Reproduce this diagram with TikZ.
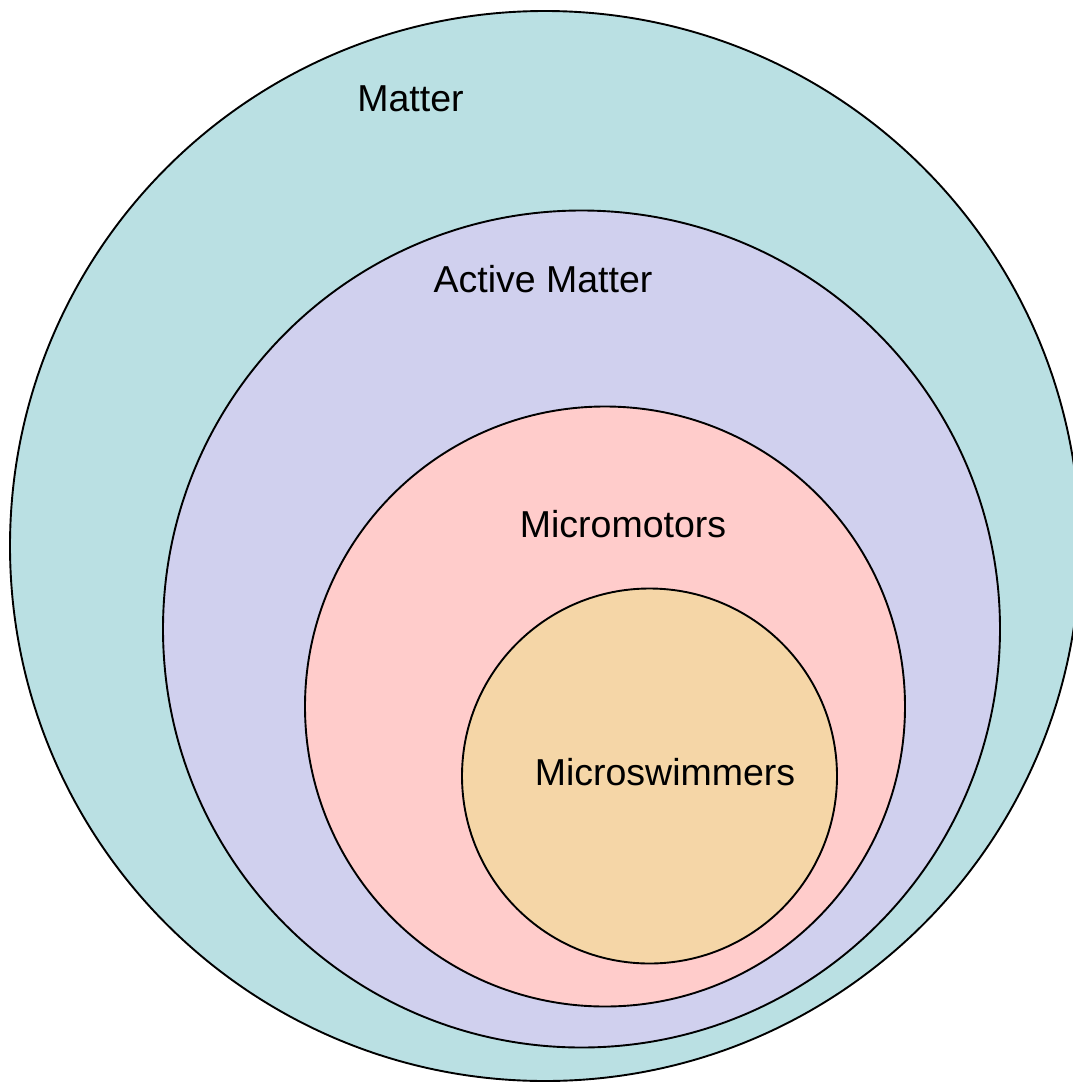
\documentclass[tikz,border=0pt]{standalone}
\usepackage{fontspec}
\setmainfont{Liberation Sans}
\definecolor{cMatter}{RGB}{186,224,227}
\definecolor{cActive}{RGB}{208,208,238}
\definecolor{cMotor}{RGB}{255,204,203}
\definecolor{cSwim}{RGB}{245,214,167}
\begin{document}
\begin{tikzpicture}[x=1pt,y=-1pt,
  ring/.style={circle,draw=black,line width=1.9pt,inner sep=0pt,outer sep=0pt},
  lbl/.style={anchor=base,inner sep=0pt,font=\fontsize{37.5}{40}\selectfont}]
\useasboundingbox (0,0) rectangle (1073,1082);
\clip (0,0) rectangle (1073,1082);
\node[ring,fill=cMatter,minimum size=1070pt] (matter) at (545,546) {};
\node[ring,fill=cActive,minimum size=837pt] (active) at (581.5,629) {};
\node[ring,fill=cMotor,minimum size=600pt] (motor) at (605,706.5) {};
\node[ring,fill=cSwim,minimum size=375pt] (swim) at (649.5,776) {};
\node[lbl] (tmatter) at (410.5,111) {Matter};
\node[lbl] (tactive) at (543,292) {Active Matter};
\node[lbl] (tmotor) at (623,537) {Micromotors};
\node[lbl] (tswim) at (665,785) {Microswimmers};
\end{tikzpicture}
\end{document}
